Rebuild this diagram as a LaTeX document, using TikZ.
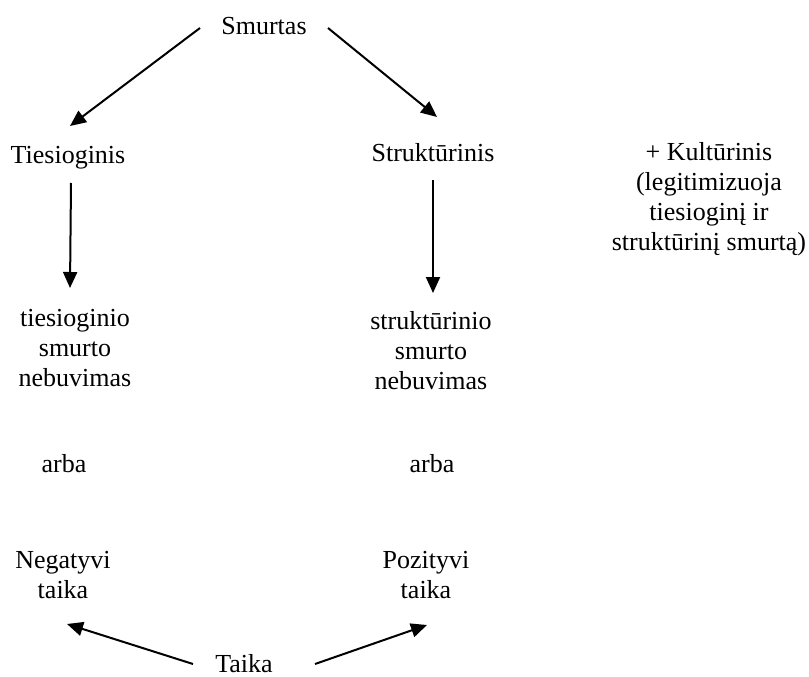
\documentclass[tikz,border=0pt]{standalone}
\usepackage{fontspec}
\setmainfont{Liberation Serif}
\usepackage{tikz}
\usetikzlibrary{arrows.meta}

\begin{document}
\begin{tikzpicture}[x=0.75pt,y=-0.75pt,
                    main node/.style={align=center,inner sep=0pt,font=\rmfamily\fontsize{19.5pt}{22.5pt}\selectfont},
                    main arrow/.style={-{Triangle[length=12pt,width=10.5pt]},line width=1.5pt}]
\useasboundingbox (0,0) rectangle (809,677);

%DRAWING TEXTS
  \node[main node] (Smurtas) at (264,26) {Smurtas};
  \node[main node] (Tiesioginis) at (68,158) {Tiesioginis};
  \node[main node] (Strukturinis) at (433,153) {Struktūrinis};
  \node[main node] (Kulturinis) at (709,199) {+ Kultūrinis\\(legitimizuoja\\tiesioginį ir\\struktūrinį smurtą)};
  \node[main node] (TiesNebuvimas) at (75,348) {tiesioginio\\smurto\\nebuvimas};
  \node[main node] (StrNebuvimas) at (431,351) {struktūrinio\\smurto\\nebuvimas};
  \node[main node] (ArbaLeft) at (64,464) {arba};
  \node[main node] (ArbaRight) at (432,464) {arba};
  \node[main node] (Negatyvi) at (63,575) {Negatyvi\\taika};
  \node[main node] (Pozityvi) at (426,575) {Pozityvi\\taika};
  \node[main node] (Taika) at (244,664) {Taika};

%DRAWING ARROWS
  \coordinate[shift={(-64,2)}] (SmurtasStartLeft) at (Smurtas);
  \coordinate[shift={(64,2)}] (SmurtasStartRight) at (Smurtas);
  \coordinate[shift={(2,-32)}] (TiesioginisEnd) at (Tiesioginis);
  \coordinate[shift={(4,-36)}] (StrukturinisEnd) at (Strukturinis);
  \draw[main arrow] (SmurtasStartLeft)--(TiesioginisEnd);
  \draw[main arrow] (SmurtasStartRight)--(StrukturinisEnd);

  \coordinate[shift={(3,25)}] (TiesioginisStart) at (Tiesioginis);
  \coordinate[shift={(-5,-60)}] (TiesNebuvimasEnd) at (TiesNebuvimas);
  \draw[main arrow] (TiesioginisStart)--(TiesNebuvimasEnd);

  \coordinate[shift={(0,27)}] (StrukturinisStart) at (Strukturinis);
  \coordinate[shift={(2,-58)}] (StrNebuvimasEnd) at (StrNebuvimas);
  \draw[main arrow] (StrukturinisStart)--(StrNebuvimasEnd);

  \coordinate[shift={(-51,0)}] (TaikaStartLeft) at (Taika);
  \coordinate[shift={(71,0)}] (TaikaStartRight) at (Taika);
  \coordinate[shift={(4,49)}] (NegatyviEnd) at (Negatyvi);
  \coordinate[shift={(1,50)}] (PozityviEnd) at (Pozityvi);
  \draw[main arrow] (TaikaStartLeft)--(NegatyviEnd);
  \draw[main arrow] (TaikaStartRight)--(PozityviEnd);

\end{tikzpicture}
\end{document}
